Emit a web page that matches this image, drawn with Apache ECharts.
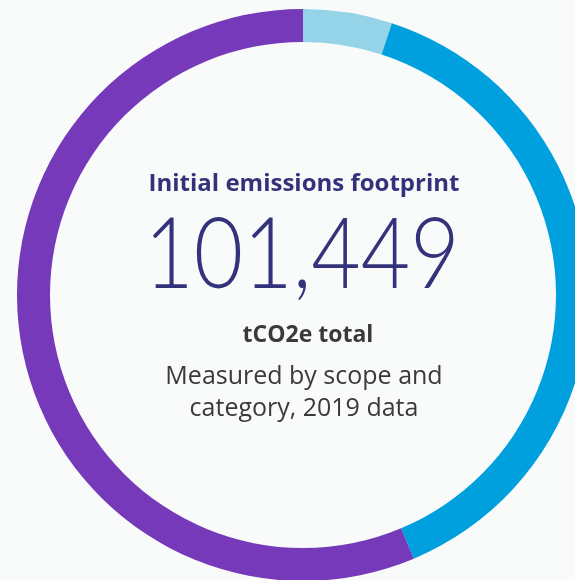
<!DOCTYPE html>
<html>
<head>
<meta charset="utf-8">
<script src="https://cdn.jsdelivr.net/npm/echarts@6/dist/echarts.min.js"></script>
<style>
  html, body { margin: 0; padding: 0; background: #f9fafa; }
  #chart { width: 575px; height: 580px; }
</style>
</head>
<body>
<div id="chart"></div>
<script>
// emission shares (clockwise from 12 o'clock)
const scopes = ['Scope 1', 'Scope 2', 'Scope 3'];
const emissions = [5100, 39200, 57149];
const scopeColors = ['#94d3e8', '#00a0df', '#7539ba'];

const heading = 'Initial emissions footprint';
const totalLabel = '101,449';
const unitLabel = 'tCO2e total';
const noteLines = ['Measured by scope and', 'category, 2019 data'];

const navy = '#33327a';
const grey = '#3a3a3a';

const chart = echarts.init(document.getElementById('chart'));

const option = {
  backgroundColor: '#f9fafa',
  animation: false,
  series: [
    {
      type: 'pie',
      center: [303, 295],
      radius: [253, 286],
      startAngle: 90,
      clockwise: true,
      label: { show: false },
      labelLine: { show: false },
      emphasis: { disabled: true },
      data: scopes.map((name, i) => ({
        name: name,
        value: emissions[i],
        itemStyle: { color: scopeColors[i] }
      }))
    }
  ],
  graphic: [
    {
      type: 'text',
      x: 304, y: 184,
      style: {
        text: heading,
        fill: navy,
        font: 'bold 24px "Open Sans", sans-serif',
        textAlign: 'center',
        textVerticalAlign: 'middle'
      }
    },
    {
      type: 'text',
      x: 302, y: 256,
      scaleX: 0.87,
      style: {
        text: totalLabel,
        fill: navy,
        font: '300 98px Lato, sans-serif',
        textAlign: 'center',
        textVerticalAlign: 'middle'
      }
    },
    {
      type: 'text',
      x: 308, y: 335,
      style: {
        text: unitLabel,
        fill: grey,
        font: 'bold 23px "Open Sans", sans-serif',
        textAlign: 'center',
        textVerticalAlign: 'middle'
      }
    },
    {
      type: 'text',
      x: 304, y: 377,
      style: {
        text: noteLines[0],
        fill: grey,
        font: '25px "Open Sans", sans-serif',
        textAlign: 'center',
        textVerticalAlign: 'middle'
      }
    },
    {
      type: 'text',
      x: 304, y: 409,
      style: {
        text: noteLines[1],
        fill: grey,
        font: '25px "Open Sans", sans-serif',
        textAlign: 'center',
        textVerticalAlign: 'middle'
      }
    }
  ]
};

chart.setOption(option);
window.addEventListener('resize', () => chart.resize());
</script>
</body>
</html>
